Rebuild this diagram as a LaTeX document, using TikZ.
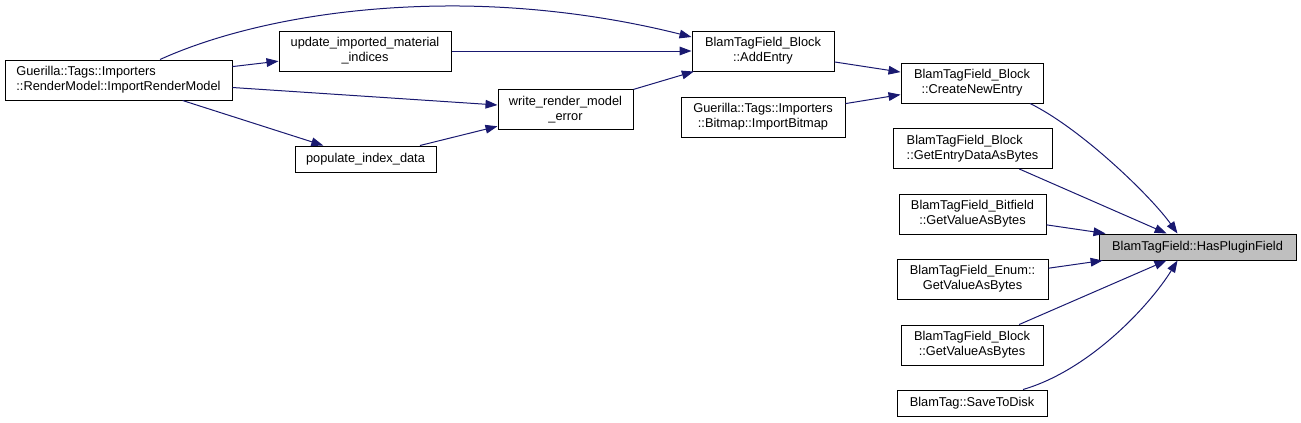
\documentclass[tikz,border=0pt]{standalone}
\usepackage{fontspec}
\setmainfont{Liberation Sans}
\usetikzlibrary{arrows.meta,calc}
\definecolor{edgeblue}{HTML}{191970}
\definecolor{hlgray}{HTML}{BFBFBF}
\begin{document}
\begin{tikzpicture}[x=0.75pt,y=-0.75pt,
  box/.style={draw=black,line width=0.75pt,inner xsep=2pt,inner ysep=0pt,align=center,
    font=\fontsize{9.6}{11.25}\selectfont},
  edge/.style={draw=edgeblue,line width=0.75pt,-{Triangle[length=9pt,width=6.5pt]}},
]
\useasboundingbox (0,0) rectangle (1301,422);
\node[box,align=left,minimum width=170.25pt,minimum height=30pt] (irm) at (118.5,80) {Guerilla::Tags::Importers\\::RenderModel::ImportRenderModel};
\node[box,minimum width=129pt,minimum height=30pt] (uimi) at (365,51) {update\_imported\_material\\\_indices};
\node[box,minimum width=105.75pt,minimum height=19.5pt] (pid) at (365.5,159) {populate\_index\_data};
\node[box,minimum width=101.25pt,minimum height=30pt] (wrme) at (565.5,109.5) {write\_render\_model\\\_error};
\node[box,minimum width=106.5pt,minimum height=30pt] (ae) at (763,51) {BlamTagField\_Block\\::AddEntry};
\node[box,minimum width=123pt,minimum height=30pt] (ib) at (763,117) {Guerilla::Tags::Importers\\::Bitmap::ImportBitmap};
\node[box,minimum width=106.5pt,minimum height=30pt] (cne) at (972,83) {BlamTagField\_Block\\::CreateNewEntry};
\node[box,align=left,minimum width=119.25pt,minimum height=30pt] (gedab) at (972.5,148.5) {BlamTagField\_Block\\::GetEntryDataAsBytes};
\node[box,minimum width=110.25pt,minimum height=30pt] (bit) at (972.5,214) {BlamTagField\_Bitfield\\::GetValueAsBytes};
\node[box,fill=hlgray,minimum width=147.75pt,minimum height=19.5pt] (hpf) at (1197.5,247) {BlamTagField::HasPluginField};
\node[box,minimum width=113.25pt,minimum height=30pt] (enum) at (972.5,279) {BlamTagField\_Enum::\\GetValueAsBytes};
\node[box,minimum width=106.5pt,minimum height=30pt] (bgvab) at (972,345) {BlamTagField\_Block\\::GetValueAsBytes};
\node[box,minimum width=112.5pt,minimum height=19.5pt] (std) at (972,403) {BlamTag::SaveToDisk};

\path[edge] (irm) -- (uimi);
\path[edge] ($(irm.north)+(41.5,0)$) .. controls (225,30) and (330,5) .. (460,6) .. controls (560,7) and (640,24) .. ($(ae.west)+(0,-14)$);
\path[edge] (irm) -- (wrme);
\path[edge] (irm) -- (pid);
\path[edge] (uimi) -- (ae);
\path[edge] (pid) -- (wrme);
\path[edge] (wrme) -- (ae);
\path[edge] (ae) -- (cne);
\path[edge] (ib) -- (cne);
\path[edge] ($(cne.south)+(58,0)$) .. controls (1080,128) and (1150,195) .. ($(hpf.north)+(-20,0)$);
\path[edge] (gedab) -- (hpf);
\path[edge] (bit) -- (hpf);
\path[edge] (enum) -- (hpf);
\path[edge] (bgvab) -- (hpf);
\path[edge] ($(std.north)+(51,0)$) .. controls (1090,370) and (1150,305) .. ($(hpf.south)+(-20,0)$);
\end{tikzpicture}
\end{document}
